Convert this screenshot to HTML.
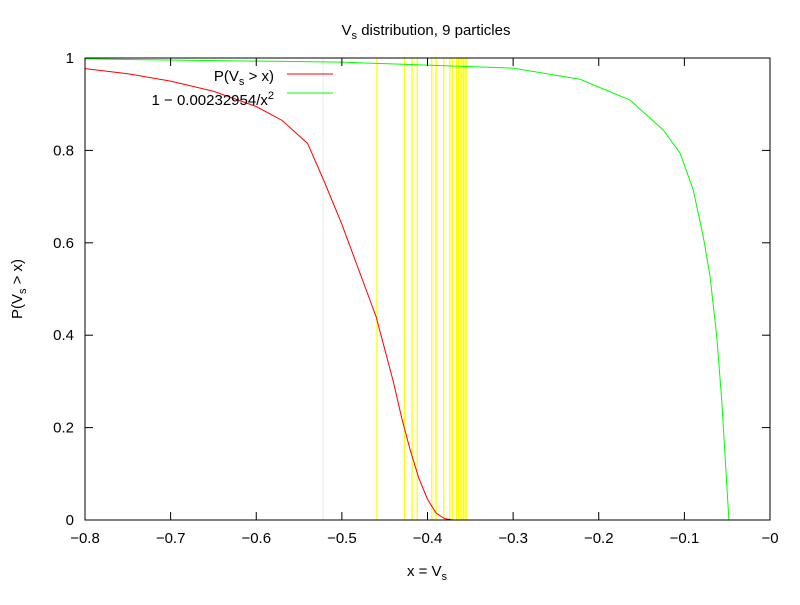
<!DOCTYPE html>
<html><head><meta charset="utf-8"><style>
body{margin:0;background:#fff}
svg text{font-family:"Liberation Sans",sans-serif;font-size:15px;fill:#000}
</style></head><body>
<svg width="800" height="600" xmlns="http://www.w3.org/2000/svg">
<g id="marks"></g>
<rect x="85" y="58" width="685" height="462" fill="none" stroke="#000" stroke-width="1"/>
<g id="axes"></g>
<text x="426" y="35" text-anchor="middle">V<tspan font-size="11" dy="4">s</tspan><tspan dy="-4"> distribution, 9 particles</tspan></text>
<text x="427" y="576" text-anchor="middle">x = V<tspan font-size="11" dy="4">s</tspan></text>
<text transform="translate(22,289) rotate(-90)" text-anchor="middle">P(V<tspan font-size="11" dy="4">s</tspan><tspan dy="-4"> &gt; x)</tspan></text>
<g>
<text x="274" y="81" text-anchor="end">P(V<tspan font-size="11" dy="4">s</tspan><tspan dy="-4"> &gt; x)</tspan></text>
<line x1="287" y1="74" x2="333" y2="74" stroke="#f00"/>
<text x="274" y="105" text-anchor="end">1 − 0.00232954/x<tspan font-size="11" dy="-6">2</tspan></text>
<line x1="287" y1="93" x2="333" y2="93" stroke="#0f0"/>
</g>
</svg>
<script>
const particleX=[-0.459,-0.427,-0.418,-0.412,-0.395,-0.390,-0.381,-0.374,-0.371,-0.366,-0.364,-0.362,-0.360,-0.358,-0.356,-0.354];
const faintX=[-0.522];
const redX=[-0.80,-0.75,-0.70,-0.65,-0.60,-0.57,-0.54,-0.52,-0.50,-0.48,-0.46,-0.44,-0.43,-0.42,-0.41,-0.40,-0.39,-0.38,-0.37,-0.36];
const redY=[0.977,0.966,0.950,0.928,0.895,0.865,0.815,0.730,0.640,0.540,0.440,0.300,0.220,0.150,0.090,0.045,0.015,0.003,0.0,0.0];
const greenX=[-0.80,-0.50,-0.30,-0.222,-0.1635,-0.1246,-0.105,-0.0896,-0.0779,-0.070,-0.0622,-0.0564,-0.0506,-0.048];
const greenY=[0.998,0.991,0.978,0.954,0.909,0.844,0.794,0.714,0.613,0.527,0.397,0.26,0.08,0.0];
const xTicks=[-0.8,-0.7,-0.6,-0.5,-0.4,-0.3,-0.2,-0.1,0];
const xTickLabels=["−0.8","−0.7","−0.6","−0.5","−0.4","−0.3","−0.2","−0.1","−0"];
const yTicks=[0,0.2,0.4,0.6,0.8,1];
const yTickLabels=["0","0.2","0.4","0.6","0.8","1"];
const NS="http://www.w3.org/2000/svg";
const sx=v=>85+(v+0.8)/0.8*685;
const sy=v=>520-v*462;
const marks=document.getElementById('marks'),axes=document.getElementById('axes');
function mk(t,a,p){const e=document.createElementNS(NS,t);for(const k in a)e.setAttribute(k,a[k]);p.appendChild(e);return e;}
faintX.forEach(v=>{const l=mk('line',{x1:sx(v),x2:sx(v),y1:58,y2:520,stroke:'#e8e8e8'},marks);

});
particleX.forEach(v=>{const l=mk('line',{x1:sx(v),x2:sx(v),y1:58,y2:520,stroke:'#ff0','stroke-width':1.3},marks);

});
const rp=mk('polyline',{points:redX.map((v,i)=>sx(v)+','+sy(redY[i])).join(' '),fill:'none',stroke:'#f00'},marks);


const gp=mk('polyline',{points:greenX.map((v,i)=>sx(v)+','+sy(greenY[i])).join(' '),fill:'none',stroke:'#0f0'},marks);


xTicks.forEach((v,i)=>{const x=sx(v);
mk('line',{x1:x,x2:x,y1:520,y2:512,stroke:'#000'},axes);
mk('line',{x1:x,x2:x,y1:58,y2:66,stroke:'#000'},axes);
const t=mk('text',{x:x,y:543,'text-anchor':'middle'},axes);t.textContent=xTickLabels[i];

});
yTicks.forEach((v,i)=>{const y=sy(v);
mk('line',{x1:85,x2:93,y1:y,y2:y,stroke:'#000'},axes);
mk('line',{x1:770,x2:762,y1:y,y2:y,stroke:'#000'},axes);
const t=mk('text',{x:74,y:y+5,'text-anchor':'end'},axes);t.textContent=yTickLabels[i];

});
</script>
</body></html>
